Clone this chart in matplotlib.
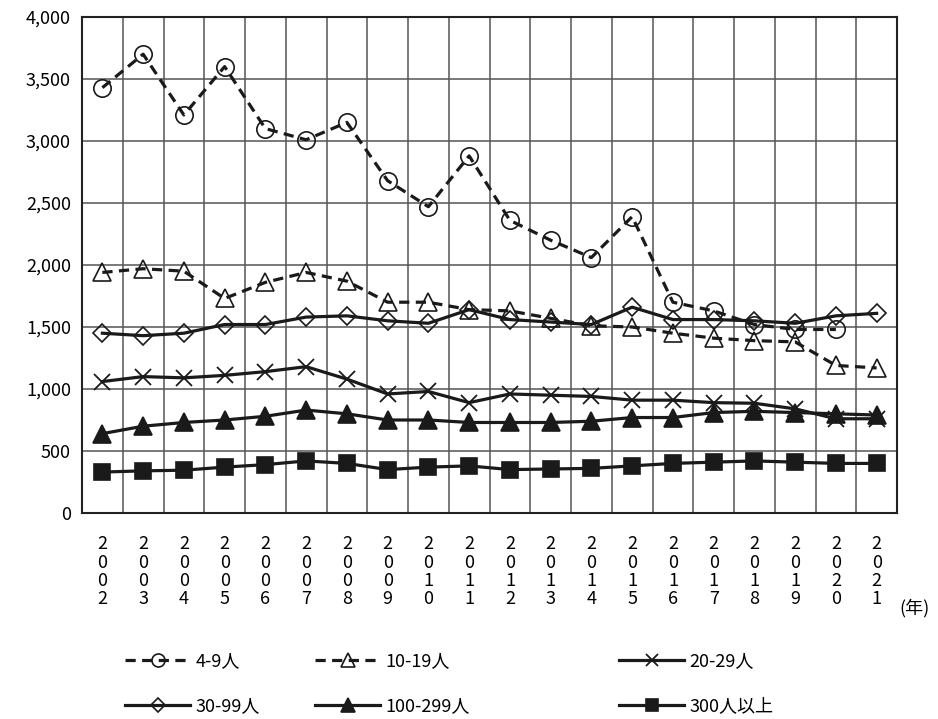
import matplotlib
matplotlib.use("Agg")
import matplotlib.pyplot as plt
import numpy as np

plt.rcParams['font.family'] = ['Noto Sans CJK JP', 'DejaVu Sans']

years = [str(y) for y in range(2002, 2022)]
s_4_9 = [3430, 3700, 3210, 3600, 3100, 3010, 3150, 2680, 2470, 2880,
         2360, 2200, 2060, 2390, 1700, 1630, 1520, 1480, 1480, None]
s_10_19 = [1940, 1970, 1950, 1730, 1860, 1940, 1870, 1700, 1700, 1640,
           1630, 1570, 1510, 1500, 1450, 1410, 1390, 1380, 1190, 1170]
s_20_29 = [1060, 1100, 1090, 1110, 1140, 1180, 1080, 960, 980, 890,
           960, 950, 940, 910, 910, 890, 885, 840, 760, 760]
s_30_99 = [1450, 1430, 1450, 1520, 1520, 1580, 1590, 1550, 1530, 1640,
           1560, 1540, 1520, 1660, 1560, 1560, 1550, 1530, 1590, 1610]
s_100_299 = [640, 700, 730, 750, 780, 830, 800, 750, 750, 730,
             730, 730, 740, 770, 770, 810, 820, 810, 800, 790]
s_300 = [330, 340, 345, 370, 390, 420, 400, 350, 370, 380,
         350, 355, 360, 380, 400, 410, 420, 410, 400, 400]
labels = ['4-9人', '10-19人', '20-29人', '30-99人', '100-299人', '300人以上']
yticks = [0, 500, 1000, 1500, 2000, 2500, 3000, 3500, 4000]

fig = plt.figure(figsize=(9.38, 7.19), dpi=100)
ax = fig.add_axes([82/938, 1-513/719, (897-82)/938, (513-17)/719])

x = np.arange(len(years))
def arr(v):
    return np.array([np.nan if a is None else a for a in v], dtype=float)

c = '#1a1a1a'
dash = (0, (3.2, 2.0))
styles = [
    dict(ls=dash, marker='o', mfc='none', ms=12.5),
    dict(ls=dash, marker='^', mfc='none', ms=13),
    dict(ls='-', marker='x', ms=12, mew=1.3),
    dict(ls='-', marker='D', mfc='none', ms=9.5),
    dict(ls='-', marker='^', mfc=c, ms=13),
    dict(ls='-', marker='s', mfc=c, ms=12),
]
series = [s_4_9, s_10_19, s_20_29, s_30_99, s_100_299, s_300]
handles = []
for s, st, lab in zip(series, styles, labels):
    kw = dict(color=c, lw=2.3, mec=c, mew=st.pop('mew', 1.2))
    kw.update(st)
    h, = ax.plot(x, arr(s), label=lab, zorder=3, **kw)
    handles.append(h)

ax.set_xlim(-0.5, len(years) - 0.5)
ax.set_ylim(0, 4000)
ax.set_yticks(yticks)
ax.set_yticklabels([f'{v:,}' for v in yticks], fontsize=13)
ax.set_xticks(np.arange(-0.5, len(years), 1.0))
ax.set_xticklabels([])
ax.tick_params(length=0, pad=8)
ax.grid(True, color='#555555', lw=1.1, zorder=0)
for sp in ax.spines.values():
    sp.set_color('#222222')
    sp.set_linewidth(1.5)

for i, yr in enumerate(years):
    ax.text(i, -0.045, '\n'.join(yr), transform=ax.get_xaxis_transform(),
            ha='center', va='top', fontsize=13, linespacing=1.02)
fig.text(899/938, 1-608/719, '(年)', ha='left', va='center', fontsize=13)

col_x = [125/938, 315/938, 619/938]
for ci in range(3):
    hs = [handles[ci], handles[ci + 3]]
    fig.legend(hs, [h.get_label() for h in hs], loc='upper left',
               bbox_to_anchor=(col_x[ci], 1-652/719), frameon=False,
               fontsize=13, handlelength=3.6, handletextpad=0.3,
               borderpad=0, borderaxespad=0, labelspacing=1.5,
               markerscale=0.75)

fig.savefig('out.png', dpi=100)
